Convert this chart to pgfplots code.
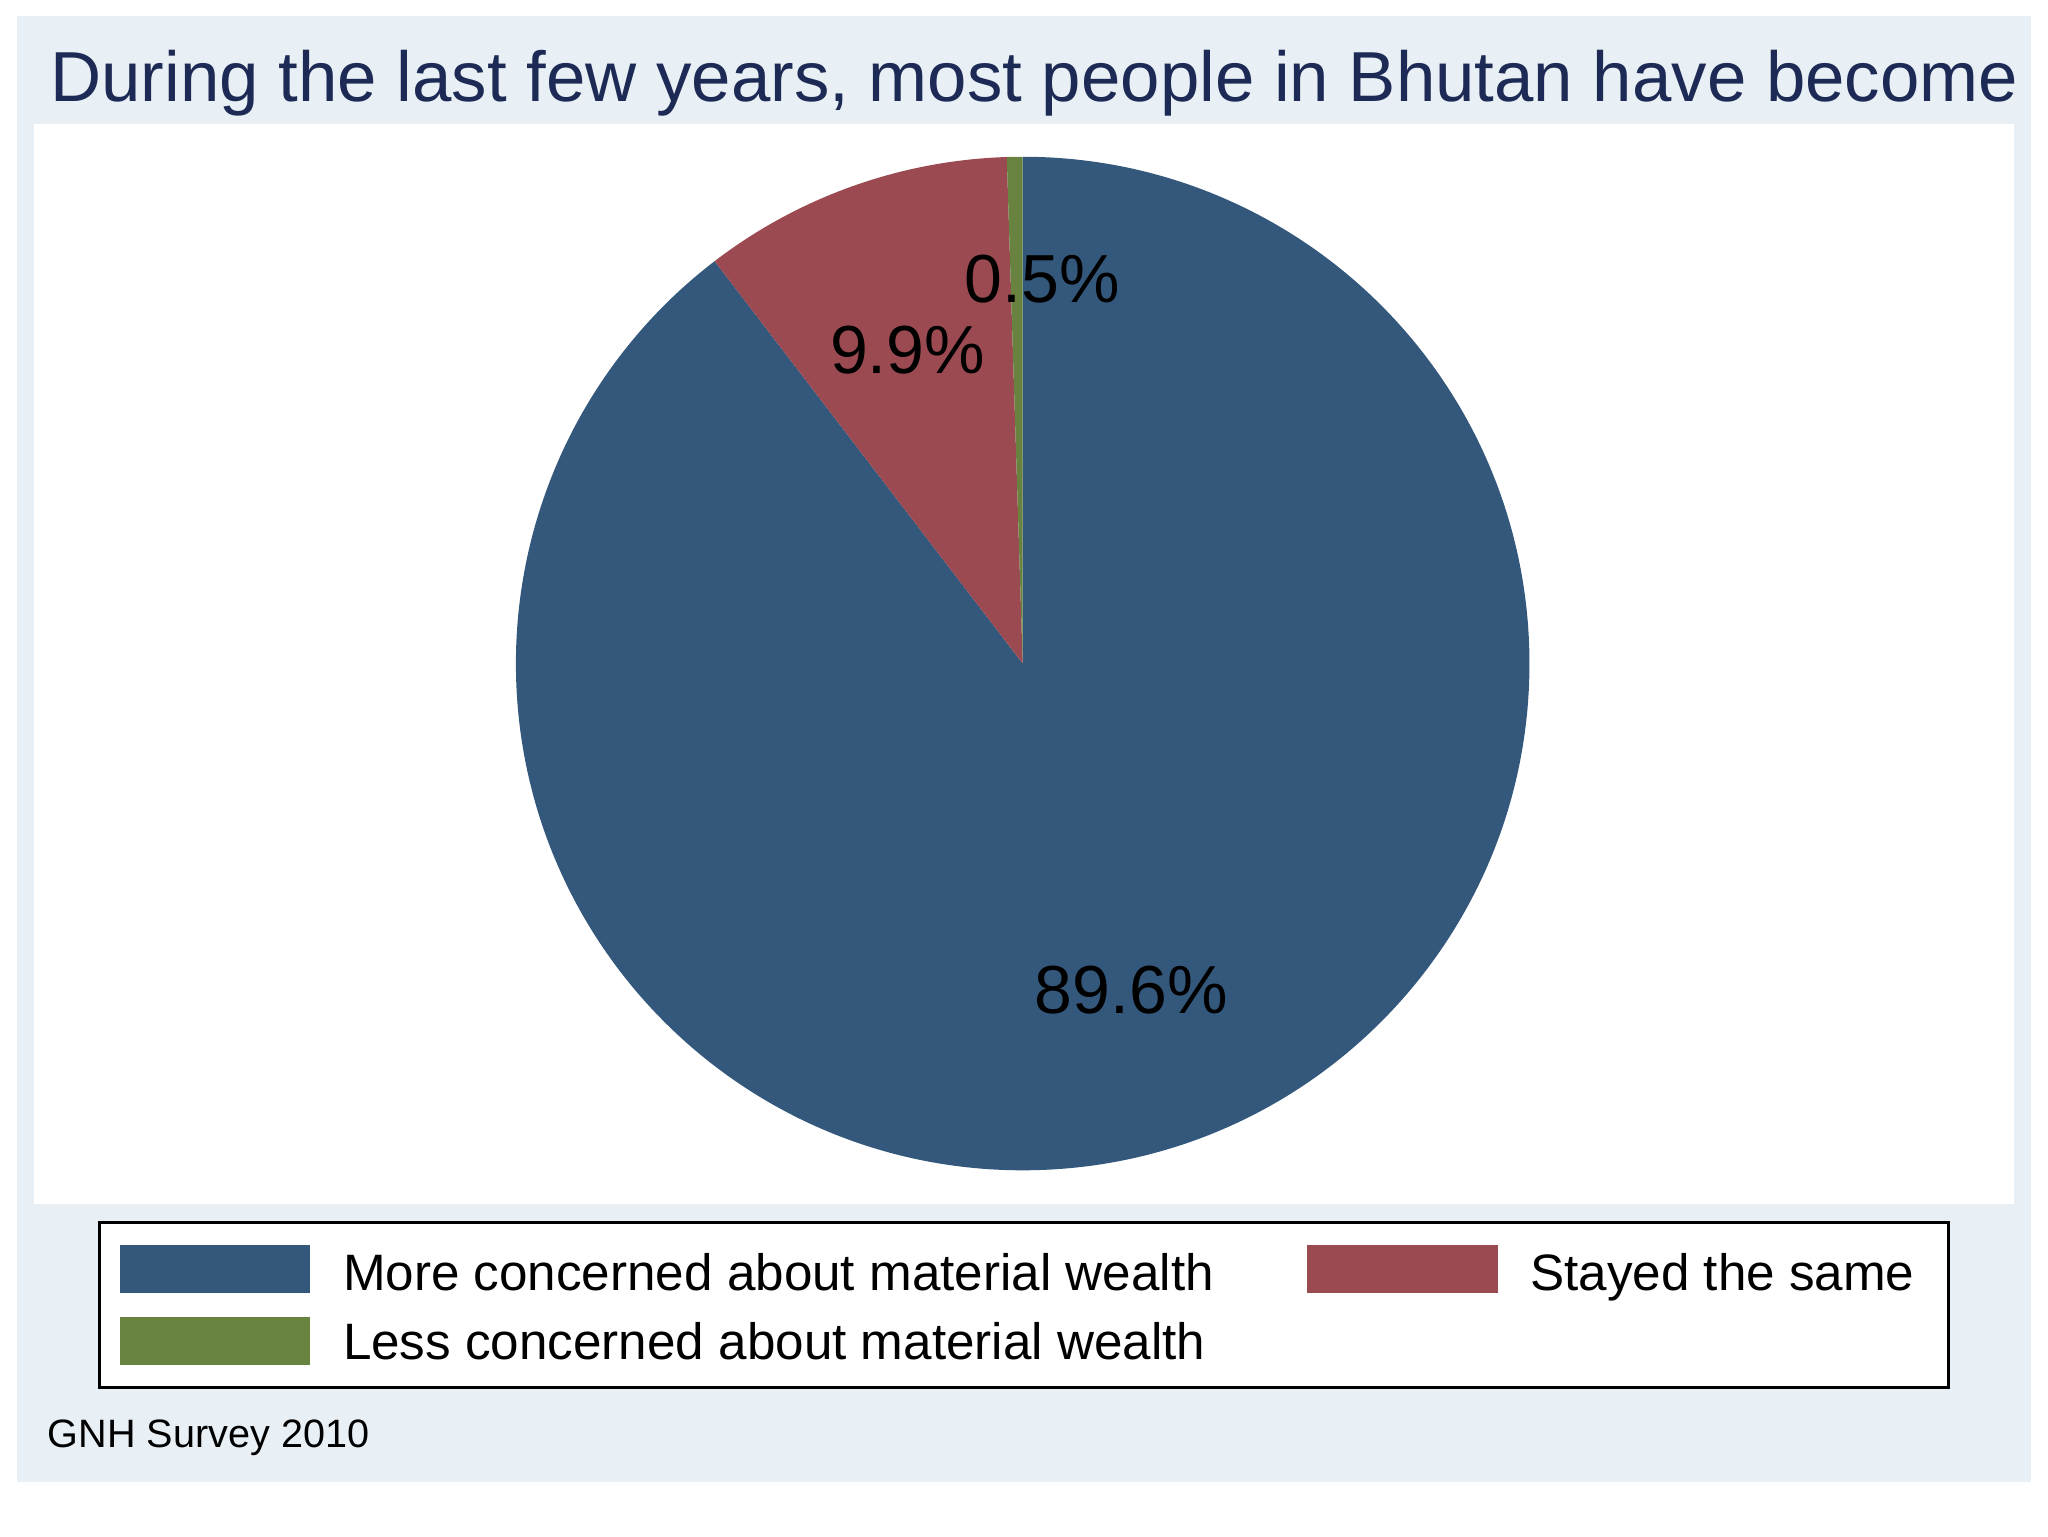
\documentclass[border=0pt]{standalone}
\usepackage{pgfplots}
\pgfplotsset{compat=1.18}
\usepackage{pgfplotstable}
\usepackage{fontspec}
\setmainfont{Liberation Sans}
\definecolor{bgc}{RGB}{233,240,245}
\definecolor{titlec}{RGB}{28,42,85}
\definecolor{c1}{RGB}{51,88,124}
\definecolor{c2}{RGB}{155,74,82}
\definecolor{c3}{RGB}{104,130,64}
\pgfplotstableread{
share
89.6
9.9
0.5
}\piedata
\begin{document}
\begin{tikzpicture}[x=0.32653pt,y=-0.32653pt]
\pgfplotstablegetelem{0}{share}\of\piedata \let\va\pgfplotsretval
\pgfplotstablegetelem{1}{share}\of\piedata \let\vb\pgfplotsretval
\pgfplotstablegetelem{2}{share}\of\piedata \let\vc\pgfplotsretval
\pgfmathsetmacro{\aA}{90}
\pgfmathsetmacro{\aB}{90-3.6*\va}
\pgfmathsetmacro{\aC}{\aB-3.6*\vb}
\pgfmathsetmacro{\aD}{\aC-3.6*\vc}
\fill[white] (0,0) rectangle (1568,1176);
\fill[bgc] (13,12) rectangle (1555,1135);
\fill[white] (26,95) rectangle (1542,922);
\node[anchor=base west, text=titlec, font=\fontsize{17.7}{20}\selectfont, inner sep=0] at (38,78) {During the last few years, most people in Bhutan have become};
\coordinate (pc) at (783,508);
\begin{axis}[anchor=origin, at={(pc)}, x=126.69pt, y=126.69pt,
  xmin=-1.05, xmax=1.05, ymin=-1.05, ymax=1.05, hide axis, clip=false]
\fill[c1] (axis cs:0,0) -- (axis cs:{cos(\aA)},{sin(\aA)}) arc[start angle=\aA, end angle=\aB, radius=1] -- cycle;
\fill[c2] (axis cs:0,0) -- (axis cs:{cos(\aB)},{sin(\aB)}) arc[start angle=\aB, end angle=\aC, radius=1] -- cycle;
\fill[c3] (axis cs:0,0) -- (axis cs:{cos(\aC)},{sin(\aC)}) arc[start angle=\aC, end angle=\aD, radius=1] -- cycle;
\node[font=\fontsize{17}{20}\selectfont] at (axis cs:0.214,-0.644) {89.6\%};
\node[font=\fontsize{17}{20}\selectfont] at (axis cs:-0.227,0.619) {9.9\%};
\node[font=\fontsize{17}{20}\selectfont] at (axis cs:0.0387,0.758) {0.5\%};
\end{axis}
\draw[fill=white, draw=black, line width=0.8pt] (76,936) rectangle (1492,1062);
\fill[c1] (92,953) rectangle (237,990);
\fill[c3] (92,1008) rectangle (237,1045);
\fill[c2] (1001,953) rectangle (1147,990);
\begin{scope}[every node/.style={anchor=base west, inner sep=0, font=\fontsize{12.8}{15}\selectfont}]
\node at (262,988) {More concerned about material wealth};
\node at (262,1041) {Less concerned about material wealth};
\node at (1171,988) {Stayed the same};
\end{scope}
\node[anchor=base west, inner sep=0, font=\fontsize{9.9}{12}\selectfont] at (36,1108) {GNH Survey 2010};
\end{tikzpicture}
\end{document}
